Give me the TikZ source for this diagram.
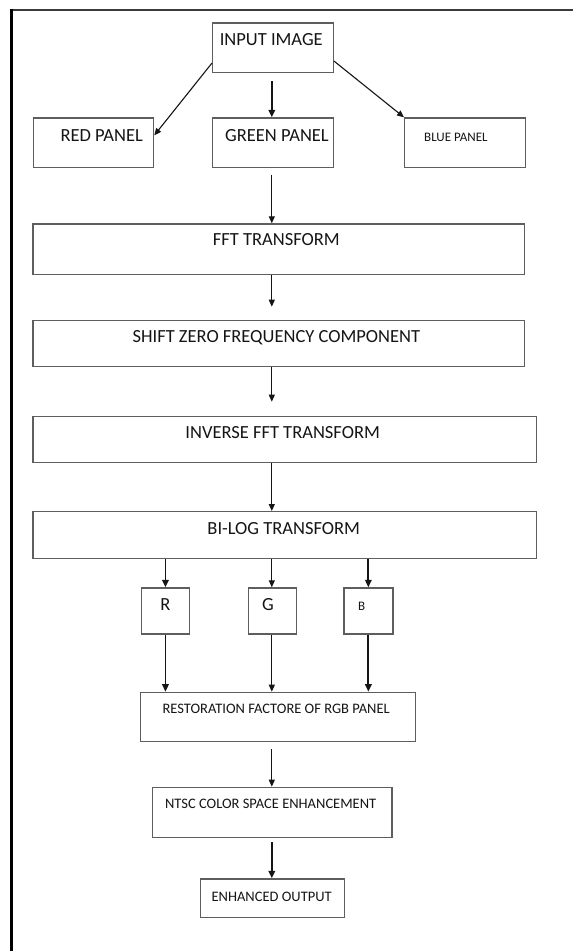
\documentclass[tikz,border=0pt]{standalone}
\usepackage{fontspec}
\setmainfont{Carlito}
\usetikzlibrary{arrows.meta,calc}

\definecolor{boxgray}{HTML}{5E5E5E}
\definecolor{framegray}{HTML}{3A3A3A}
\definecolor{inkcol}{HTML}{151515}

\tikzset{
  flowbox/.style={draw=boxgray, line width=1.3pt, inner sep=0pt, anchor=north west},
  bigtxt/.style={font=\fontsize{18.5}{20}\selectfont, text=inkcol, inner sep=0pt,
                 text height=11.9pt, text depth=0pt, anchor=center},
  midtxt/.style={font=\fontsize{14.5}{16}\selectfont, text=inkcol, inner sep=0pt,
                 text height=9.3pt, text depth=0pt, anchor=center},
  smalltxt/.style={font=\fontsize{13}{14}\selectfont, text=inkcol, inner sep=0pt,
                 text height=8.4pt, text depth=0pt, anchor=center},
  arr/.style={draw=inkcol, line width=1.1pt, -{Triangle[length=7pt,width=6pt]}},
  arrbold/.style={draw=inkcol, line width=1.8pt, -{Triangle[length=7.5pt,width=6.5pt]}},
}

\begin{document}
\begin{tikzpicture}[x=1pt,y=-1pt]
  \useasboundingbox (0,0) rectangle (573,951);
  \fill[white] (0,0) rectangle (573,951);

  % page frame: top rule and left rule
  \draw[line width=2.8pt, framegray] (11,10) -- (573,10);
  \draw[line width=3pt, black] (11,8.6) -- (11,951);

  % column of the main vertical arrows
  \coordinate (axis) at (271.8,0);

  % boxes
  \node (inp)   [flowbox, minimum width=120.6, minimum height=49.4] at (212,22.3) {};
  \node (red)   [flowbox, minimum width=120,   minimum height=49.4] at (33,117.3) {};
  \node (green) [flowbox, minimum width=120.6, minimum height=49.4] at (212,117.3) {};
  \node (blue)  [flowbox, minimum width=120.5, minimum height=49.4] at (404,117.3) {};
  \node (fft)   [flowbox, minimum width=491.6, minimum height=50.7] at (32.2,223.3) {};
  \node (shift) [flowbox, minimum width=491.6, minimum height=45.7] at (32.2,320) {};
  \node (inv)   [flowbox, minimum width=503.3, minimum height=46]   at (32.2,415.7) {};
  \node (bilog) [flowbox, minimum width=503.3, minimum height=46.7] at (32.2,511) {};
  \node (rb)    [flowbox, minimum width=47.6,  minimum height=46]   at (141,587.3) {};
  \node (gb)    [flowbox, minimum width=48,    minimum height=46]   at (248,587.3) {};
  \node (bb)    [flowbox, minimum width=49,    minimum height=46]   at (343.2,587.3) {};
  \node (rest)  [flowbox, minimum width=275,   minimum height=49]   at (140,691.7) {};
  \node (ntsc)  [flowbox, minimum width=239.2, minimum height=50]   at (152,786.7) {};
  \node (enh)   [flowbox, minimum width=144,   minimum height=38.4] at (199.6,878.3) {};

  % box texts, set near the top of each box
  \node (inp-t)   [bigtxt]   at ($(inp.north)+(-1.7,17)$)   {INPUT IMAGE};
  \node (red-t)   [bigtxt]   at ($(red.north)+(8,18.7)$)    {RED PANEL};
  \node (green-t) [bigtxt]   at ($(green.north)+(4,18.7)$)  {GREEN PANEL};
  \node (blue-t)  [smalltxt] at ($(blue.north)+(-9,19.7)$)  {BLUE PANEL};
  \node (fft-t)   [bigtxt]   at ($(fft.north)+(-2.3,16.7)$) {FFT TRANSFORM};
  \node (shift-t) [bigtxt]   at ($(shift.north)+(-2.3,16.7)$) {SHIFT ZERO FREQUENCY COMPONENT};
  \node (inv-t)   [bigtxt]   at ($(inv.north)+(-1.8,16.6)$) {INVERSE FFT TRANSFORM};
  \node (bilog-t) [bigtxt]   at ($(bilog.north)+(-0.8,17.3)$) {BI-LOG TRANSFORM};
  \node (rb-t)    [bigtxt]   at ($(rb.north)+(0,17.7)$)     {R};
  \node (gb-t)    [bigtxt]   at ($(gb.north)+(-4.6,17.7)$)  {G};
  \node (bb-t)    [smalltxt] at ($(bb.north)+(-6.7,19.4)$)  {B};
  \node (rest-t)  [midtxt]   at ($(rest.north)+(-2,17.6)$)  {RESTORATION FACTORE OF RGB PANEL};
  \node (ntsc-t)  [midtxt]   at ($(ntsc.north)+(-1.6,17.6)$) {NTSC COLOR SPACE ENHANCEMENT};
  \node (enh-t)   [midtxt]   at ($(enh.north)+(-0.6,19)$)   {ENHANCED OUTPUT};

  % connectors
  \draw[arr]     ([yshift=10pt]inp.south west) -- ([yshift=-18pt]red.north east);
  \draw[arrbold] ($(inp.south -| axis)+(0,8)$) -- (green.north -| axis);
  \draw[arr]     ([yshift=12pt]inp.south east) -- (blue.north west);
  \draw[arr]     ($(green.south -| axis)+(0,6.6)$) -- (fft.north -| axis);
  \draw[arr]     (fft.south -| axis) -- ($(shift.north -| axis)+(0,-13.3)$);
  \draw[arr]     (shift.south -| axis) -- ($(inv.north -| axis)+(0,-14)$);
  \draw[arr]     (inv.south -| axis) -- (bilog.north -| axis);
  \draw[arrbold] (bilog.south -| rb.north) -- (rb.north);
  \draw[arr]     (bilog.south -| axis) -- (gb.north -| axis);
  \draw[arrbold] (bilog.south -| bb.north) -- (bb.north);
  \draw[arrbold] (rb.south) -- (rb.south |- rest.north);
  \draw[arr]     (gb.south -| axis) -- (rest.north -| axis);
  \draw[arrbold] (bb.south) -- (bb.south |- rest.north);
  \draw[arr]     ($(rest.south -| axis)+(0,7.3)$) -- (ntsc.north -| axis);
  \draw[arrbold] ($(ntsc.south -| axis)+(0,4)$) -- (enh.north -| axis);
\end{tikzpicture}
\end{document}
